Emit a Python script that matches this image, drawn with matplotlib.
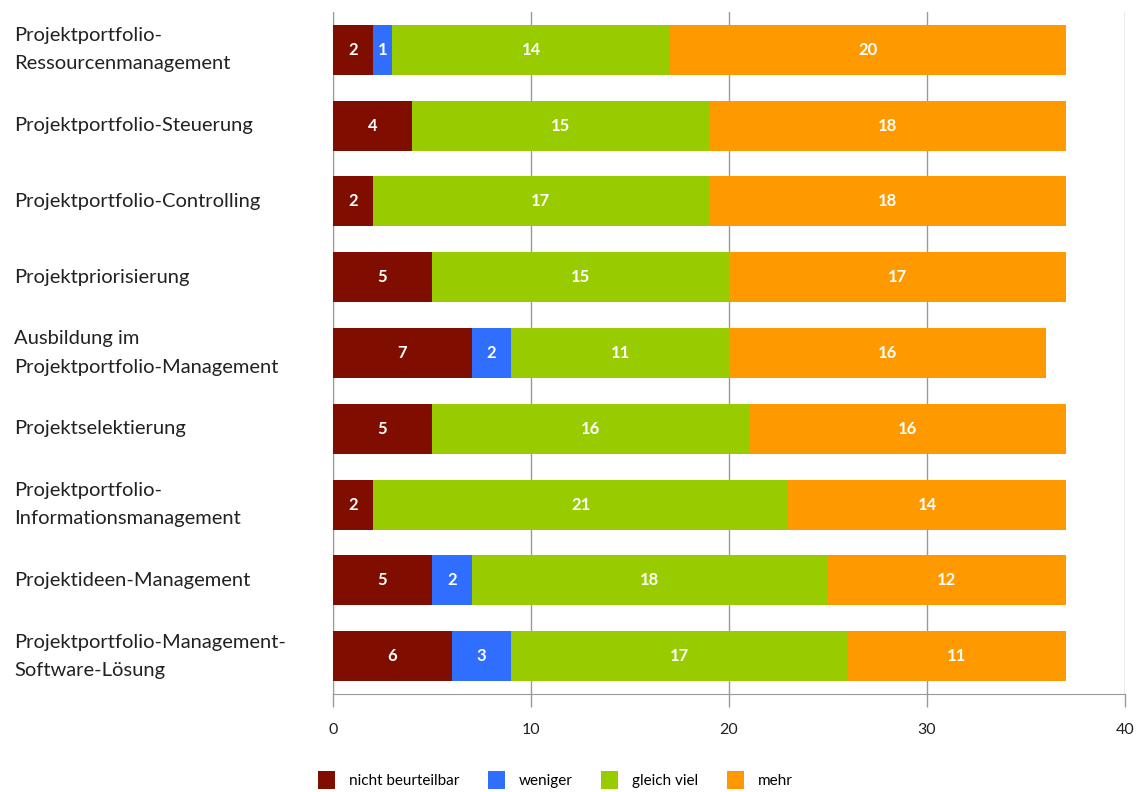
import numpy as np
import matplotlib.pyplot as plt
from matplotlib.patches import Patch

categories = [
    "Projektportfolio-\nRessourcenmanagement",
    "Projektportfolio-Steuerung",
    "Projektportfolio-Controlling",
    "Projektpriorisierung",
    "Ausbildung im\nProjektportfolio-Management",
    "Projektselektierung",
    "Projektportfolio-\nInformationsmanagement",
    "Projektideen-Management",
    "Projektportfolio-Management-\nSoftware-Lösung",
]
nicht_beurteilbar = [2, 4, 2, 5, 7, 5, 2, 5, 6]
weniger = [1, 0, 0, 0, 2, 0, 0, 2, 3]
gleich_viel = [14, 15, 17, 15, 11, 16, 21, 18, 17]
mehr = [20, 18, 18, 17, 16, 16, 14, 12, 11]

series_names = ["nicht beurteilbar", "weniger", "gleich viel", "mehr"]
colors = ["#800E00", "#2F6EFF", "#99CC00", "#FF9900"]

plt.rcParams['font.family'] = ['Lato', 'DejaVu Sans']

fig = plt.figure(figsize=(11.41, 7.92), dpi=100)
ax = fig.add_axes([333 / 1141, 98 / 792, (1125 - 333) / 1141, (694 - 12) / 792])

y = np.arange(len(categories))
left = np.zeros(len(categories))
for name, vals, col in zip(series_names, [nicht_beurteilbar, weniger, gleich_viel, mehr], colors):
    vals = np.array(vals, dtype=float)
    ax.barh(y, vals, left=left, height=0.66, color=col, zorder=3)
    for yi, l, v in zip(y, left, vals):
        if v > 0:
            ax.text(l + v / 2, yi, str(int(v)), ha='center', va='center',
                    color='white', fontsize=12, fontweight='bold', zorder=4)
    left += vals

ax.set_xlim(0, 40)
ax.set_ylim(len(categories) - 0.5, -0.5)
ax.set_xticks([0, 10, 20, 30, 40])
ax.set_yticks(y)
ax.set_yticklabels(categories, fontsize=14.5, ha='left', color='#222222', linespacing=1.8)
for t in ax.get_yticklabels():
    t.set_va('center')
ax.tick_params(axis='y', length=0, pad=(333 - 14) * 0.72)
ax.tick_params(axis='x', length=9, width=1, color='#999999', direction='out',
               pad=12, labelsize=11.5, labelcolor='#222222')
ax.xaxis.grid(True, color='#999999', linewidth=1, zorder=0)
for s in ['top', 'right']:
    ax.spines[s].set_visible(False)
ax.spines['left'].set_color('#999999')
ax.spines['bottom'].set_color('#999999')

handles = [Patch(facecolor=c, label=n) for n, c in zip(series_names, colors)]
fig.legend(handles=handles, loc='center left', bbox_to_anchor=(318 / 1141, 1 - 780 / 792), ncol=4,
           frameon=False, fontsize=11, handlelength=1.1, handleheight=1.4,
           columnspacing=1.9, handletextpad=0.9, borderpad=0, borderaxespad=0)

fig.savefig("out.png", dpi=100)
